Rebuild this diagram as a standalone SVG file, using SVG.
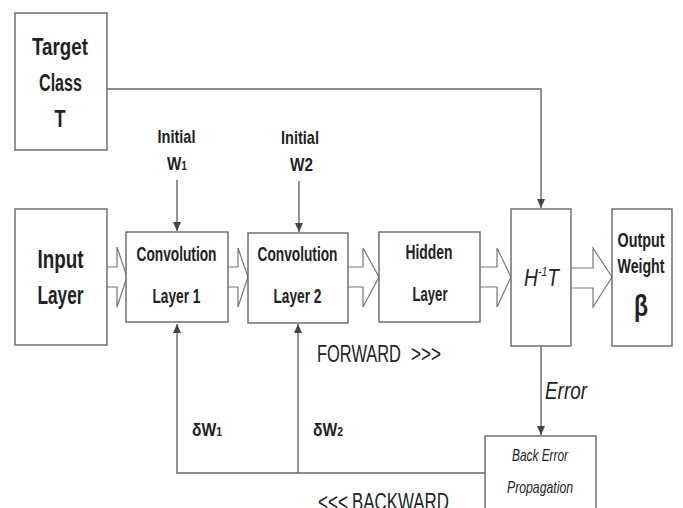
<svg xmlns="http://www.w3.org/2000/svg" width="683" height="508" viewBox="0 0 683 508">
<style>
.box{fill:#fff;stroke:#666;stroke-width:1.4}
.ha{fill:#fff;stroke:#777;stroke-width:1.2}
.ln{fill:none;stroke:#666;stroke-width:1.4}
text{font-family:"Liberation Sans",Arial,sans-serif;fill:#222}
.b{font-weight:bold}
.i{font-style:italic}
.m{text-anchor:middle}
</style>
<defs>
<marker id="ah" markerUnits="userSpaceOnUse" markerWidth="10" markerHeight="10" refX="9" refY="4" orient="auto">
<path d="M0,0 L9,4 L0,8 Z" fill="#444"/>
</marker>
</defs>
<rect width="683" height="508" fill="#fff"/>

<g id="connectors">
<path class="ln" d="M107,89 H541 V208" marker-end="url(#ah)"/>
<path class="ln" d="M177,180 V231" marker-end="url(#ah)"/>
<path class="ln" d="M299,181 V232" marker-end="url(#ah)"/>
<path class="ln" d="M541,346 V435" marker-end="url(#ah)"/>
<path class="ln" d="M485,473 H177 V324" marker-end="url(#ah)"/>
<path class="ln" d="M298,473 V324" marker-end="url(#ah)"/>
<polyline class="ha" points="107,267 117,267 117,247 127,277 117,307 117,287 107,287"/>
<polyline class="ha" points="228,267 238,267 238,248 248,277 238,307 238,287 228,287"/>
<polyline class="ha" points="348,267 363,267 363,248 379,277 363,307 363,287 348,287"/>
<polyline class="ha" points="480,267 497,267 497,248 511,277 497,307 497,287 480,287"/>
<polyline class="ha" points="571,268 593,268 593,248 612,277 593,307 593,288 571,288"/>
<text x="317" y="362" font-size="23" textLength="84" lengthAdjust="spacingAndGlyphs">FORWARD</text>
<text x="411" y="362" font-size="23" textLength="30" lengthAdjust="spacingAndGlyphs">&gt;&gt;&gt;</text>
<text x="318" y="510" font-size="23" textLength="30" lengthAdjust="spacingAndGlyphs">&lt;&lt;&lt;</text>
<text x="352" y="510" font-size="23" textLength="97" lengthAdjust="spacingAndGlyphs">BACKWARD</text>
<text class="i" x="545" y="399" font-size="24" textLength="42" lengthAdjust="spacingAndGlyphs">Error</text>
<text class="b" x="192" y="436" font-size="18" textLength="30" lengthAdjust="spacingAndGlyphs">δW<tspan font-size="12">1</tspan></text>
<text class="b" x="313" y="436" font-size="18" textLength="30" lengthAdjust="spacingAndGlyphs">δW<tspan font-size="12">2</tspan></text>
</g>

<g id="target">
<rect class="box" x="15" y="13" width="92" height="137"/>
<text class="b m" x="60" y="55" font-size="24" textLength="56" lengthAdjust="spacingAndGlyphs">Target</text>
<text class="b m" x="60.5" y="91" font-size="24" textLength="43" lengthAdjust="spacingAndGlyphs">Class</text>
<text class="b m" x="60" y="127" font-size="24" textLength="11" lengthAdjust="spacingAndGlyphs">T</text>
</g>

<g id="initW1">
<text class="b m" x="176.5" y="143" font-size="18.5" textLength="38" lengthAdjust="spacingAndGlyphs">Initial</text>
<text class="b" x="167" y="170" font-size="18.5" textLength="20" lengthAdjust="spacingAndGlyphs">W<tspan font-size="12.5">1</tspan></text>
</g>

<g id="initW2">
<text class="b m" x="300" y="144" font-size="18.5" textLength="38" lengthAdjust="spacingAndGlyphs">Initial</text>
<text class="b" x="290" y="171" font-size="18.5" textLength="23" lengthAdjust="spacingAndGlyphs">W2</text>
</g>

<g id="input">
<rect class="box" x="15" y="209" width="92" height="136"/>
<text class="b m" x="60.5" y="268" font-size="25" textLength="46" lengthAdjust="spacingAndGlyphs">Input</text>
<text class="b m" x="60.5" y="304" font-size="25" textLength="46" lengthAdjust="spacingAndGlyphs">Layer</text>
</g>

<g id="conv1">
<rect class="box" x="126" y="232" width="102" height="90"/>
<text class="b m" x="176.5" y="261" font-size="19.5" textLength="80" lengthAdjust="spacingAndGlyphs">Convolution</text>
<text class="b m" x="176.5" y="303" font-size="19.5" textLength="48" lengthAdjust="spacingAndGlyphs">Layer 1</text>
</g>

<g id="conv2">
<rect class="box" x="248" y="233" width="100" height="90"/>
<text class="b m" x="297.5" y="261" font-size="19.5" textLength="80" lengthAdjust="spacingAndGlyphs">Convolution</text>
<text class="b m" x="297.5" y="303" font-size="19.5" textLength="48" lengthAdjust="spacingAndGlyphs">Layer 2</text>
</g>

<g id="hidden">
<rect class="box" x="379" y="232" width="101" height="90"/>
<text class="b m" x="429" y="259" font-size="19.5" textLength="47" lengthAdjust="spacingAndGlyphs">Hidden</text>
<text class="b m" x="430" y="301" font-size="19.5" textLength="35" lengthAdjust="spacingAndGlyphs">Layer</text>
</g>

<g id="hinvt">
<rect class="box" x="511" y="209" width="60" height="137"/>
<text class="i" x="524" y="286" font-size="24" textLength="35" lengthAdjust="spacingAndGlyphs">H<tspan font-size="13" dy="-10">-1</tspan><tspan dy="10">T</tspan></text>
</g>

<g id="output">
<rect class="box" x="612" y="209" width="60" height="137"/>
<text class="b m" x="641" y="247" font-size="19.5" textLength="47" lengthAdjust="spacingAndGlyphs">Output</text>
<text class="b m" x="641" y="273" font-size="19.5" textLength="47" lengthAdjust="spacingAndGlyphs">Weight</text>
<text class="b m" x="641" y="316" font-size="30" textLength="14" lengthAdjust="spacingAndGlyphs">β</text>
</g>

<g id="backerror">
<rect class="box" x="485" y="436" width="111" height="90"/>
<text class="i m" x="540" y="461" font-size="17" textLength="56" lengthAdjust="spacingAndGlyphs">Back Error</text>
<text class="i m" x="540" y="493" font-size="17" textLength="66" lengthAdjust="spacingAndGlyphs">Propagation</text>
</g>
</svg>
